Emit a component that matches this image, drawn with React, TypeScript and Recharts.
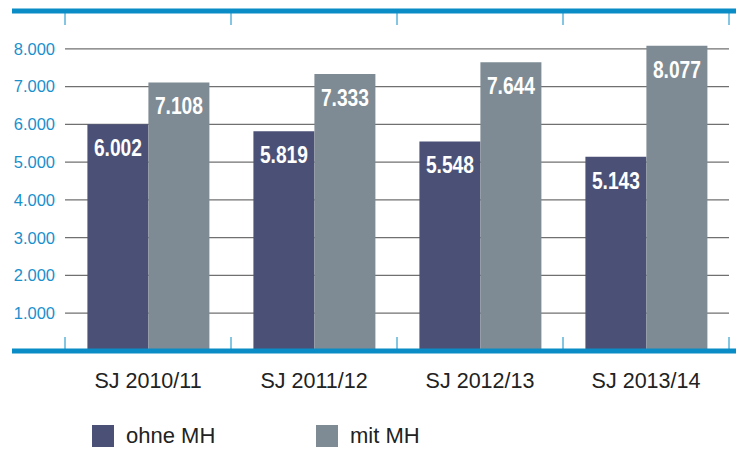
import { BarChart, Bar, XAxis, YAxis, CartesianGrid, ReferenceLine, LabelList } from 'recharts';

const categories = ['SJ 2010/11', 'SJ 2011/12', 'SJ 2012/13', 'SJ 2013/14'];
const ohneMH = [6002, 5819, 5548, 5143];
const mitMH = [7108, 7333, 7644, 8077];
const yTicks = [1000, 2000, 3000, 4000, 5000, 6000, 7000, 8000];

const BLUE = '#0a8cc6';
const DARK = '#4b5176';
const GRAY = '#7e8b94';
const SANS = 'Arial, "Liberation Sans", sans-serif';

const data = categories.map((name, i) => ({ name, ohne: ohneMH[i], mit: mitMH[i] }));

const fmt = (v: number) => v.toLocaleString('de-DE');

// band across the chart, with short ticks at the category boundaries
function Band(props: any) {
  const { x1, x2, y1, dir } = props;
  const step = (x2 - x1) / categories.length;
  const ticks = Array.from({ length: categories.length + 1 }, (_, i) => x1 + i * step);
  return (
    <g>
      <line x1={x1 - 53} x2={x2 + 10} y1={y1} y2={y1} stroke={BLUE} strokeWidth={5} />
      {ticks.map((t) => (
        <line key={t} x1={t} x2={t} y1={y1} y2={y1 + dir * 14} stroke={BLUE} strokeWidth={1} />
      ))}
    </g>
  );
}

// bold condensed look: squeeze the text horizontally
function BarLabel(props: any) {
  const { x, y, width, value } = props;
  return (
    <text
      transform={`translate(${x + width / 2}, ${y + 32}) scale(0.8, 1)`}
      textAnchor="middle"
      fill="#fff"
      fontSize={24}
      fontWeight="bold"
      fontFamily={SANS}
    >
      {fmt(Number(value))}
    </text>
  );
}

const legendItems = [
  { label: 'ohne MH', color: DARK },
  { label: 'mit MH', color: GRAY },
];

export default function App() {
  return (
    <div style={{ position: 'absolute', left: 0, top: 0, width: 736, height: 451, background: '#fff' }}>
      <BarChart
        width={736}
        height={451}
        data={data}
        margin={{ top: 11, right: 7, left: 0, bottom: 70 }}
        barCategoryGap="13.5%"
        barGap={0}
      >
        <CartesianGrid vertical={false} stroke="#707070" strokeWidth={1.2} />
        <XAxis
          dataKey="name"
          height={30}
          axisLine={false}
          tickLine={false}
          tickMargin={16}
          tick={{ fill: '#222', fontSize: 21.5, fontFamily: SANS }}
        />
        <YAxis
          width={65}
          domain={[0, 9000]}
          ticks={yTicks}
          axisLine={false}
          tickLine={false}
          tickMargin={4}
          tickFormatter={fmt}
          tick={{ fill: '#1a90cc', fontSize: 16.5, fontFamily: SANS }}
        />
        <Bar dataKey="ohne" fill={DARK} isAnimationActive={false}>
          <LabelList dataKey="ohne" content={BarLabel} />
        </Bar>
        <Bar dataKey="mit" fill={GRAY} isAnimationActive={false}>
          <LabelList dataKey="mit" content={BarLabel} />
        </Bar>
        <ReferenceLine y={9000} ifOverflow="visible" shape={(p: any) => <Band {...p} dir={1} />} />
        <ReferenceLine y={0} ifOverflow="visible" shape={(p: any) => <Band {...p} dir={-1} />} />
      </BarChart>
      <div
        style={{
          position: 'absolute',
          left: 92,
          top: 425,
          display: 'flex',
          fontFamily: SANS,
          fontSize: 22,
          color: '#222',
          lineHeight: '22px',
        }}
      >
        {legendItems.map((it) => (
          <div key={it.label} style={{ display: 'flex', alignItems: 'center', width: 224 }}>
            <span style={{ display: 'inline-block', width: 22, height: 22, background: it.color, marginRight: 12 }} />
            <span>{it.label}</span>
          </div>
        ))}
      </div>
    </div>
  );
}
